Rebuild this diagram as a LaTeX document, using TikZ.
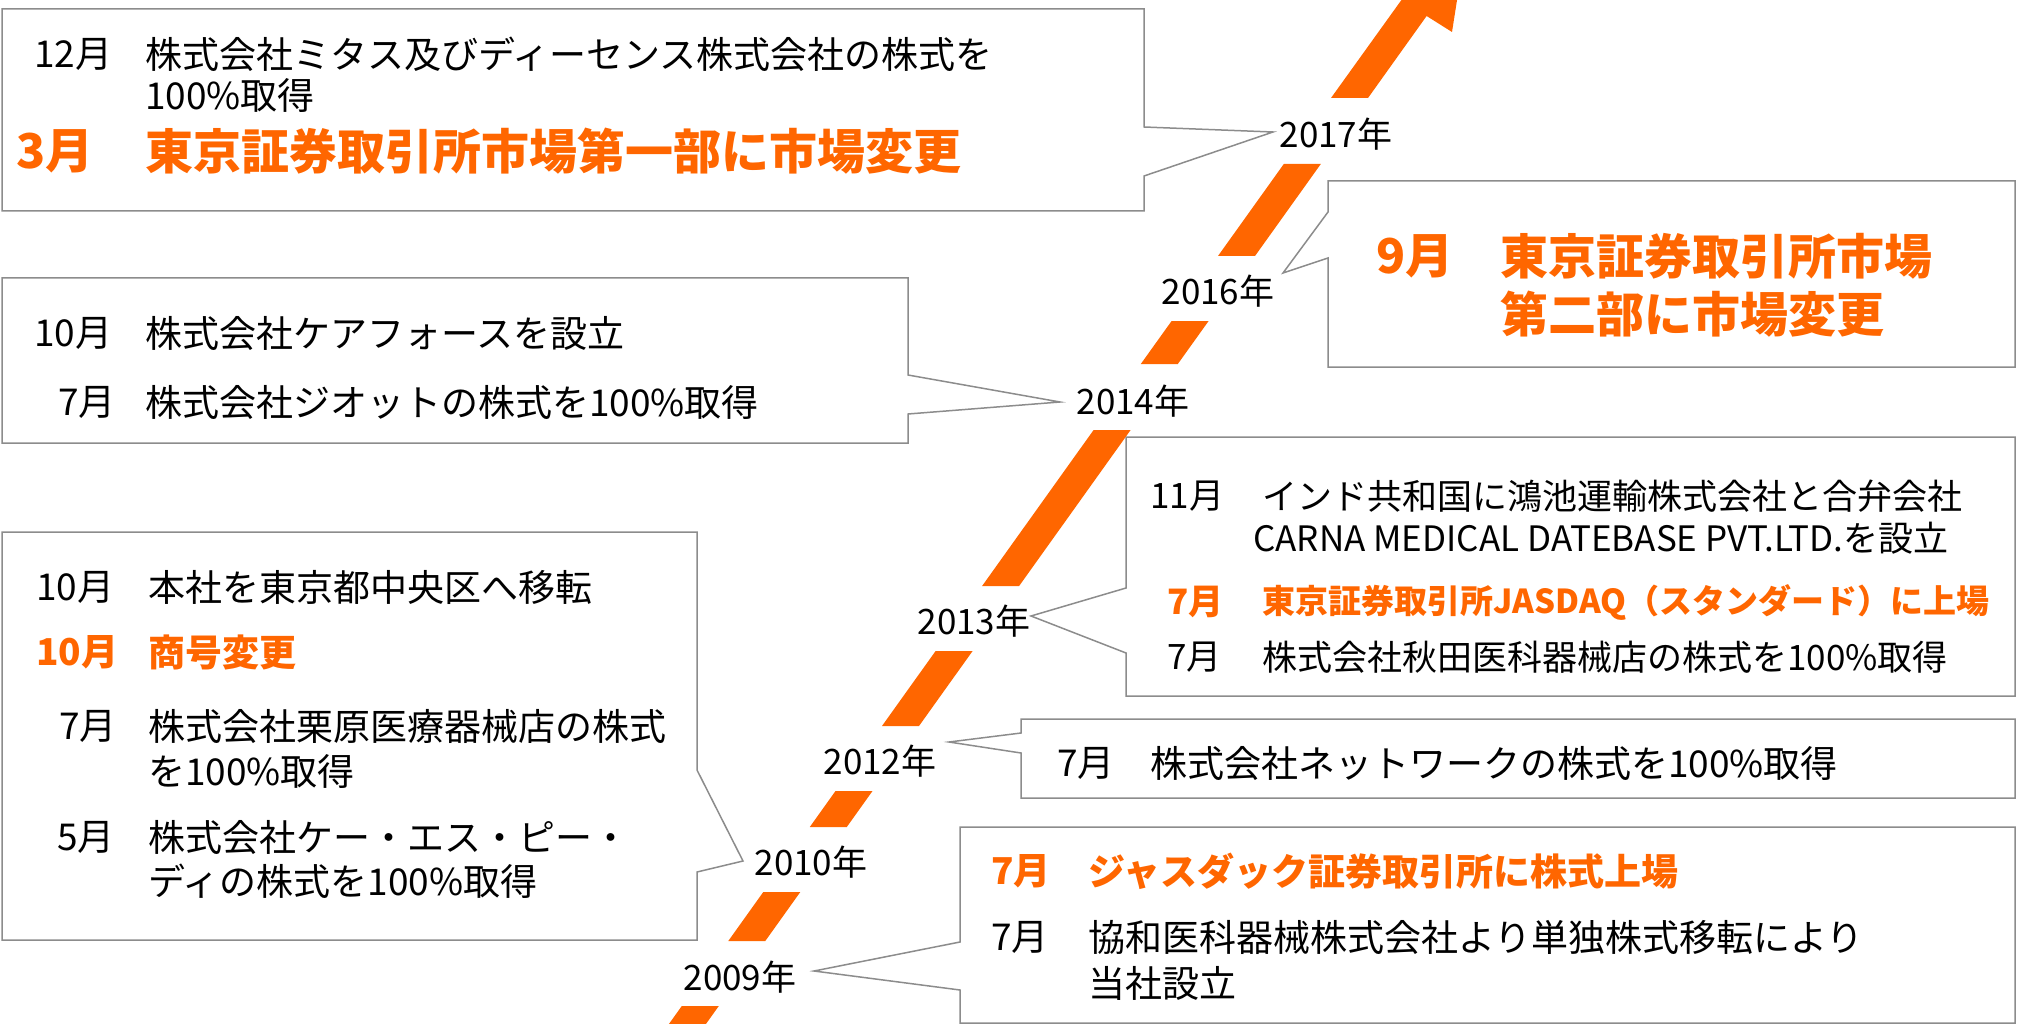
\documentclass[tikz,border=0pt]{standalone}
\usepackage{fontspec}
\setmainfont{Noto Sans CJK JP}
\definecolor{arroworange}{HTML}{FF6600}
\definecolor{hlorange}{HTML}{FF6600}
\definecolor{boxgray}{HTML}{8C8C8C}
\tikzset{
  callout/.style={draw=boxgray, line width=1.5pt, fill=white, line join=miter},
  shaft/.style={fill=arroworange, draw=none},
  txt/.style={anchor=west, inner sep=0pt, text=black, font=\fontsize{37}{44}\selectfont},
  txtS/.style={anchor=west, inner sep=0pt, text=black, font=\fontsize{35}{42}\selectfont},
  hl/.style={anchor=west, inner sep=0pt, text=hlorange, font=\fontsize{37}{44}\selectfont\bfseries},
  hlS/.style={anchor=west, inner sep=0pt, text=hlorange, font=\fontsize{35}{42}\selectfont\bfseries},
  hlT/.style={anchor=west, inner sep=0pt, text=hlorange, font=\fontsize{33}{40}\selectfont\bfseries},
  hlL/.style={anchor=west, inner sep=0pt, text=hlorange, font=\fontsize{48}{56}\selectfont\bfseries},
  year/.style={inner sep=0pt, text=black, font=\fontsize{35}{42}\selectfont},
}
\begin{document}
\begin{tikzpicture}[x=1pt, y=-1pt]
\useasboundingbox (0,0) rectangle (2018,1024);

% ---------- year labels ----------
\node[year] (y2017) at (1336,134) {2017年};
\node[year] (y2016) at (1218,291) {2016年};
\node[year] (y2014) at (1133,401) {2014年};
\node[year] (y2013) at (974,621) {2013年};
\node[year] (y2012) at (880,761) {2012年};
\node[year] (y2010) at (811,862) {2010年};
\node[year] (y2009) at (740,977) {2009年};

% pointer tips
\coordinate (p2017) at (1273,132);
\coordinate (p2016) at (1283,273);
\coordinate (p2014) at (1060,402);
\coordinate (p2013) at (1031,616);
\coordinate (p2012) at (949,742);
\coordinate (p2010) at (743,861);
\coordinate (p2009) at (814,971);

% ---------- callout boxes ----------
\draw[callout] (2,9) -- (1144,9) -- (1144,127) -- (p2017) -- (1144,176) -- (1144,211) -- (2,211) -- cycle;
\draw[callout] (1328,181) -- (2015,181) -- (2015,367) -- (1328,367) -- (1328,258) -- (p2016) -- (1328,212) -- cycle;
\draw[callout] (2,278) -- (908,278) -- (908,375) -- (p2014) -- (908,414) -- (908,443) -- (2,443) -- cycle;
\draw[callout] (1126,437) -- (2015,437) -- (2015,696) -- (1126,696) -- (1126,653) -- (p2013) -- (1126,588) -- cycle;
\draw[callout] (1021,719) -- (2015,719) -- (2015,798) -- (1021,798) -- (1021,753) -- (p2012) -- (1021,733) -- cycle;
\draw[callout] (2,532) -- (697,532) -- (697,770) -- (p2010) -- (697,872) -- (697,940) -- (2,940) -- cycle;
\draw[callout] (960,827) -- (2015,827) -- (2015,1023) -- (960,1023) -- (960,990) -- (p2009) -- (960,942) -- cycle;

% ---------- arrow ----------
\begin{scope}
\clip (0,0) rectangle (2018,1024);
\fill[shaft] (1331,98) -- (1368,98) -- (1426.6,16) -- (1452,32) -- (1467.4,-66) -- (1378.5,-18.7) -- (1402.5,-1.5) -- cycle;
\fill[shaft] (1283.8,164) -- (1320.8,164) -- (1255,256) -- (1218,256) -- cycle;
\fill[shaft] (1171.6,321) -- (1208.6,321) -- (1177.8,364) -- (1140.8,364) -- cycle;
\fill[shaft] (1093.6,430) -- (1130.6,430) -- (1019.1,586) -- (982.1,586) -- cycle;
\fill[shaft] (935.6,651) -- (972.6,651) -- (919,726) -- (882,726) -- cycle;
\fill[shaft] (835.5,791) -- (872.5,791) -- (846.8,827) -- (809.8,827) -- cycle;
\fill[shaft] (763.3,892) -- (800.3,892) -- (765.3,941) -- (728.3,941) -- cycle;
\fill[shaft] (681.8,1006) -- (718.8,1006) -- (694.5,1040) -- (657.5,1040) -- cycle;
\end{scope}

% ---------- texts: 2017 box ----------
\node[txt] (a1m) at (34,54) {12月};
\node[txt] (a1) at (145,54) {株式会社ミタス及びディーセンス株式会社の株式を};
\node[txt] (a2) at (145,95) {100\%取得};
\node[hlL] (a3m) at (16,151) {3月};
\node[hlL] (a3) at (145,151) {東京証券取引所市場第一部に市場変更};

% ---------- 2016 box ----------
\node[hlL] (b1m) at (1376,256) {9月};
\node[hlL] (b1) at (1500,256) {東京証券取引所市場};
\node[hlL] (b2) at (1500,314) {第二部に市場変更};

% ---------- 2014 box ----------
\node[txt] (c1m) at (34,333) {10月};
\node[txt] (c1) at (145,333) {株式会社ケアフォースを設立};
\node[txt] (c2m) at (58,402) {7月};
\node[txt] (c2) at (145,402) {株式会社ジオットの株式を100\%取得};

% ---------- 2013 box ----------
\node[txtS] (d1m) at (1150,496) {11月};
\node[txtS] (d1) at (1262,496) {インド共和国に鴻池運輸株式会社と合弁会社};
\node[txtS] (d2) at (1253,538) {CARNA MEDICAL DATEBASE PVT.LTD.を設立};
\node[hlS] (d3m) at (1167,602) {7月};
\node[hlT] (d3) at (1262,602) {東京証券取引所JASDAQ（スタンダード）に上場};
\node[txtS] (d4m) at (1167,657) {7月};
\node[txtS] (d4) at (1262,657) {株式会社秋田医科器械店の株式を100\%取得};

% ---------- 2012 box ----------
\node[txt] (e1m) at (1057,763) {7月};
\node[txt] (e1) at (1150,763) {株式会社ネットワークの株式を100\%取得};

% ---------- 2010 box ----------
\node[txt] (f1m) at (36,587) {10月};
\node[txt] (f1) at (148,587) {本社を東京都中央区へ移転};
\node[hl] (f2m) at (36,652) {10月};
\node[hl] (f2) at (148,652) {商号変更};
\node[txt] (f3m) at (59,726) {7月};
\node[txt] (f3) at (148,726) {株式会社栗原医療器械店の株式};
\node[txt] (f4) at (148,771) {を100\%取得};
\node[txt] (f5m) at (57,837) {5月};
\node[txt] (f5) at (148,837) {株式会社ケー・エス・ピー・};
\node[txt] (f6) at (148,881) {ディの株式を100\%取得};

% ---------- 2009 box ----------
\node[hl] (g1m) at (991,871) {7月};
\node[hl] (g1) at (1088,871) {ジャスダック証券取引所に株式上場};
\node[txt] (g2m) at (991,937) {7月};
\node[txt] (g2) at (1088,937) {協和医科器械株式会社より単独株式移転により};
\node[txt] (g3) at (1088,983) {当社設立};
\end{tikzpicture}
\end{document}
